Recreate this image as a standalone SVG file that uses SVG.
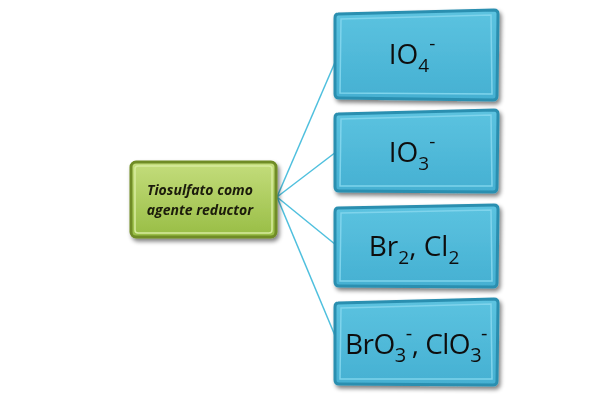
<svg xmlns="http://www.w3.org/2000/svg" width="602" height="401" viewBox="0 0 602 401">
<defs>
<linearGradient id="gb" x1="0" y1="0" x2="0" y2="1">
<stop offset="0" stop-color="#5cc3e0"/>
<stop offset="1" stop-color="#45b0d2"/>
</linearGradient>
<linearGradient id="gg" x1="0" y1="0" x2="0" y2="1">
<stop offset="0" stop-color="#c4dd7c"/>
<stop offset="1" stop-color="#98bd45"/>
</linearGradient>
<filter id="sh" x="-10%" y="-10%" width="130%" height="130%">
<feGaussianBlur in="SourceAlpha" stdDeviation="2"/>
<feOffset dx="2" dy="3"/>
<feComponentTransfer><feFuncA type="linear" slope="0.5"/></feComponentTransfer>
<feMerge><feMergeNode/><feMergeNode in="SourceGraphic"/></feMerge>
</filter>
</defs>
<style>
.blue{fill:url(#gb);stroke:#2b8fb0;stroke-width:3}
.blueIn{fill:none;stroke:#7fd4ec;stroke-width:1.5}
.green{fill:url(#gg);stroke:#6f8c25;stroke-width:3}
.greenIn{fill:none;stroke:#d8ec9e;stroke-width:1.5}
.t{font-family:"Open Sans","Liberation Sans",sans-serif;font-size:28px;fill:#111;text-anchor:middle}
.g{font-family:"Open Sans","Liberation Sans",sans-serif;font-size:14px;font-style:italic;font-weight:bold;fill:#1a1a0a;text-anchor:middle}
.c{stroke:#4fc0de;stroke-width:1.5;fill:none}
</style>
<g id="connectors">
<line class="c" x1="277" y1="197" x2="336" y2="60"/>
<line class="c" x1="277" y1="197" x2="336" y2="152"/>
<line class="c" x1="277" y1="197" x2="336" y2="245"/>
<line class="c" x1="277" y1="197" x2="336" y2="338"/>
</g>
<g id="source" filter="url(#sh)">
<rect class="green" x="131" y="162" width="145" height="75" rx="5"/>
<rect class="greenIn" x="135" y="166" width="137" height="67" rx="3"/>
<text class="g" x="200" y="195">Tiosulfato como</text>
<text class="g" x="200" y="215">agente reductor</text>
</g>
<g id="n1" filter="url(#sh)">
<path class="blue" d="M338 14 L494 10 Q498 10 498 14 L497 96 Q497 100 493 100 L339 98 Q335 98 335 94 L335 18 Q335 14 338 14 Z"/>
<path class="blueIn" d="M341 19 L491 15 L492 94 L340 93 Z"/>
<text class="t" x="412" y="64">IO<tspan font-size="19" dy="8">4</tspan><tspan font-size="19" dy="-22">-</tspan></text>
</g>
<g id="n2" filter="url(#sh)">
<path class="blue" d="M338 114 L494 110 Q498 110 498 114 L497 188 Q497 192 493 192 L339 191 Q335 191 335 187 L335 118 Q335 114 338 114 Z"/>
<path class="blueIn" d="M341 119 L491 115 L492 186 L340 186 Z"/>
<text class="t" x="412" y="162">IO<tspan font-size="19" dy="8">3</tspan><tspan font-size="19" dy="-22">-</tspan></text>
</g>
<g id="n3" filter="url(#sh)">
<path class="blue" d="M338 208 L494 205 Q498 205 498 209 L497 283 Q497 287 493 287 L339 286 Q335 286 335 282 L335 212 Q335 208 338 208 Z"/>
<path class="blueIn" d="M341 213 L491 210 L492 281 L340 281 Z"/>
<text class="t" x="414" y="256">Br<tspan font-size="19" dy="8">2</tspan><tspan dy="-8">, Cl</tspan><tspan font-size="19" dy="8">2</tspan></text>
</g>
<g id="n4" filter="url(#sh)">
<path class="blue" d="M338 303 L494 299 Q498 299 498 303 L497 381 Q497 385 493 385 L339 384 Q335 384 335 380 L335 307 Q335 303 338 303 Z"/>
<path class="blueIn" d="M341 308 L491 304 L492 379 L340 379 Z"/>
<text class="t" x="416" y="354" font-size="30" letter-spacing="-0.5">BrO<tspan font-size="20" dy="8">3</tspan><tspan font-size="20" dy="-22">-</tspan><tspan dy="14">, ClO</tspan><tspan font-size="20" dy="8">3</tspan><tspan font-size="20" dy="-22">-</tspan></text>
</g>
</svg>
